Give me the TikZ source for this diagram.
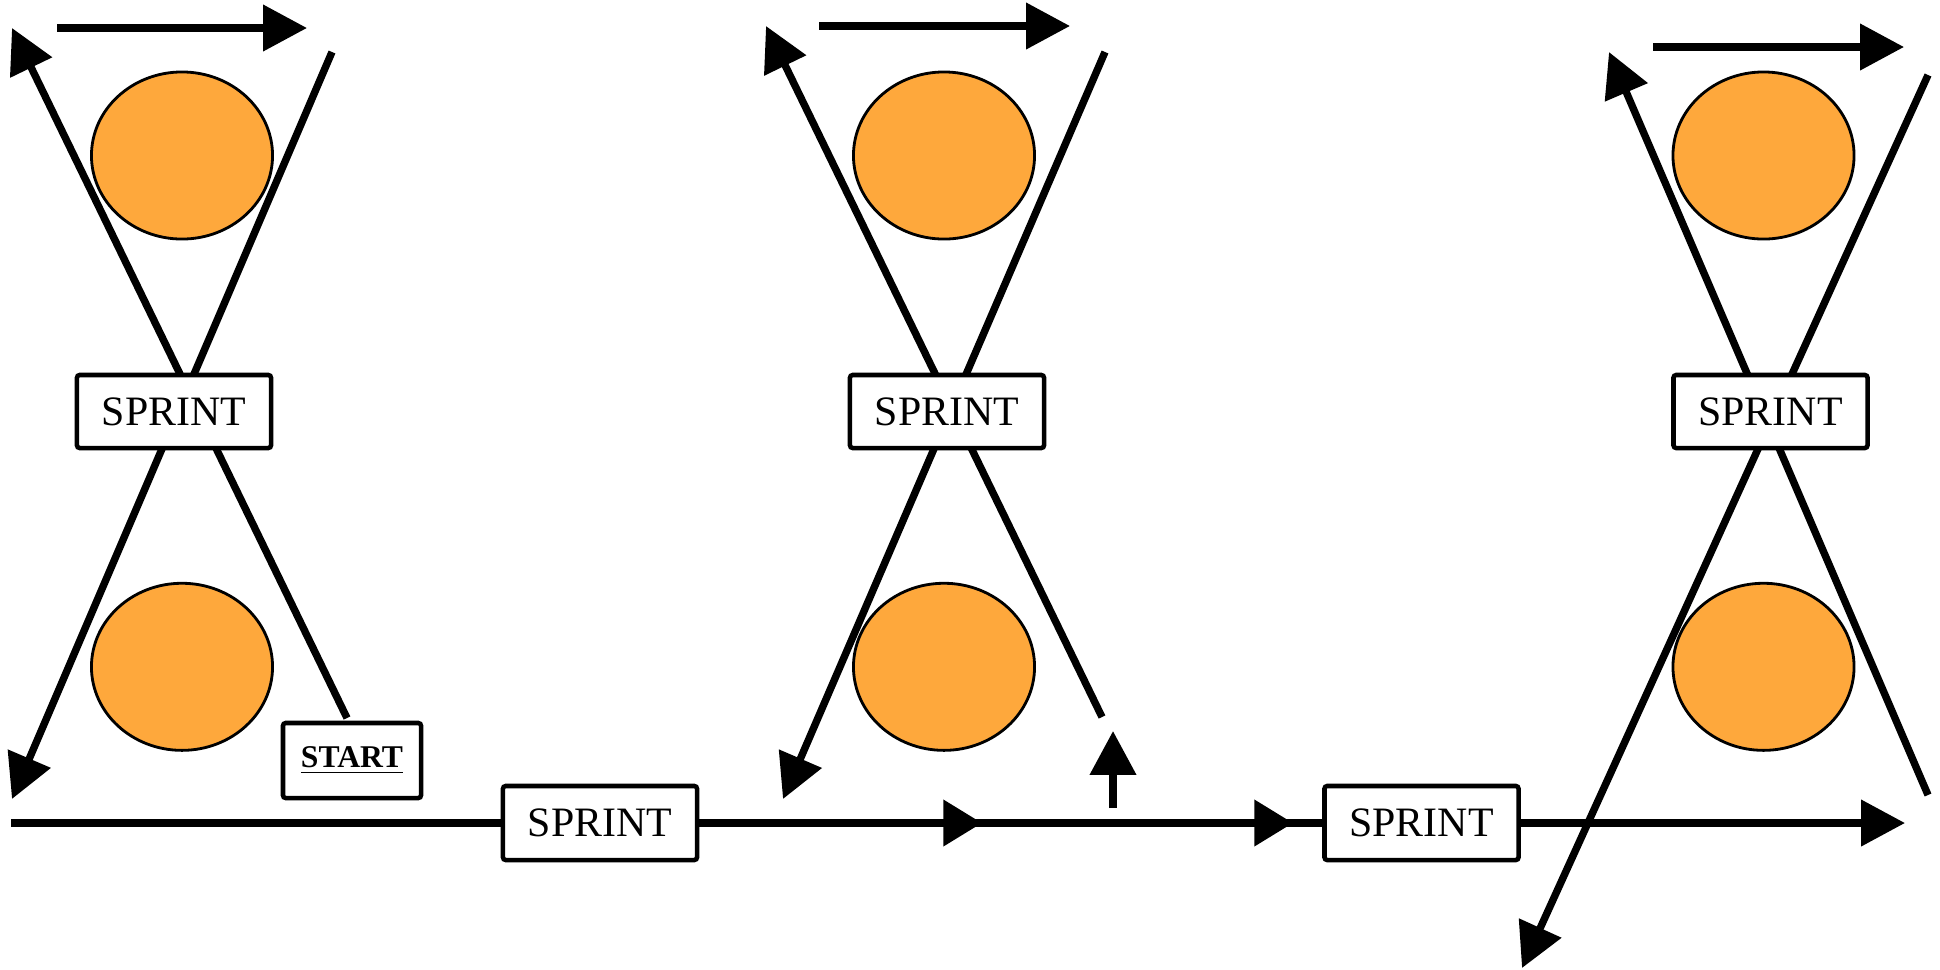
\documentclass[tikz,border=0pt]{standalone}
\usepackage{fontspec}
\setmainfont{Liberation Serif}
\usetikzlibrary{arrows.meta, positioning, shapes.geometric}
\definecolor{ballorange}{HTML}{FEA83C}
\tikzset{
	>={Triangle[length=12.5pt, width=12.8pt]},
	node distance=5.11cm,
	track/.style={line width=2.1pt},
	short/.style={-{Triangle[length=11pt, width=12.8pt]}},
	ball/.style={ellipse, draw, line width=0.8pt, fill=ballorange, minimum width=1.81cm, minimum height=1.67cm},
	sprint/.style={draw, line width=1.3pt, rounded corners=0.8pt, fill=white, minimum width=1.94cm, minimum height=0.73cm, inner sep=0pt, font=\fontsize{11.9}{14}\selectfont},
	startbox/.style={sprint, minimum width=1.38cm, minimum height=0.75cm, font=\bfseries\fontsize{9}{11}\selectfont}
}

\begin{document}
\begin{tikzpicture}[x=0.01cm, y=-0.01cm]
	\useasboundingbox (0,0) rectangle (1940,969);

	% balls
	\node[ball] (b1) at (182,155.5) {};
	\node[ball, below of=b1] (b2) {};
	\node[ball] (b3) at (944,155.5) {};
	\node[ball, below of=b3] (b4) {};
	\node[ball] (b5) at (1763.5,155.5) {};
	\node[ball, below of=b5] (b6) {};

	% line ends
	\coordinate (t1) at (57,28);    \coordinate (t1e) at (307,28);
	\coordinate (u1) at (347,718);  \coordinate (u1e) at (12,28);
	\coordinate (v1) at (332,52);   \coordinate (v1e) at (12,799);
	\coordinate (t2) at (819,26);   \coordinate (t2e) at (1070,26);
	\coordinate (u2) at (1102,717); \coordinate (u2e) at (766,26);
	\coordinate (v2) at (1105,52);  \coordinate (v2e) at (783,799);
	\coordinate (p) at (1113,808);  \coordinate (pe) at (1113,731);
	\coordinate (t3) at (1653,47);  \coordinate (t3e) at (1904,47);
	\coordinate (u3) at (1928,795); \coordinate (u3e) at (1609,52);
	\coordinate (v3) at (1928,75);  \coordinate (v3e) at (1522,968);
	\coordinate (in) at (11,823);   \coordinate (out) at (1905,823);
	\coordinate (m1) at (982,823);  \coordinate (m1b) at (946,823);
	\coordinate (m2) at (1293,823); \coordinate (m2b) at (1257,823);

	\draw[track, ->] (t1) -- (t1e);
	\draw[track, ->] (u1) -- (u1e);
	\draw[track, ->] (v1) -- (v1e);
	\draw[track, ->] (t2) -- (t2e);
	\draw[track, ->] (u2) -- (u2e);
	\draw[track, ->] (v2) -- (v2e);
	\draw[track, ->] (p) -- (pe);
	\draw[track, ->] (t3) -- (t3e);
	\draw[track, ->] (u3) -- (u3e);
	\draw[track, ->] (v3) -- (v3e);

	\node[sprint] (s1) at (174,411.5) {SPRINT};
	\node[sprint] (s2) at (947,411.5) {SPRINT};
	\node[sprint] (s3) at (1770.5,411.5) {SPRINT};
	\node[startbox] (go) at (352,760.5) {\underline{START}};
	\node[sprint, minimum height=0.74cm] (s4) at (600,823) {SPRINT};
	\node[sprint, minimum height=0.74cm] (s5) at (1421.5,823) {SPRINT};

	\draw[track] (in) -- (s4) (m2b) -- (s5);
	\draw[track, short] (s4) -- (m1);
	\draw[track, short] (m1b) -- (m2);
	\draw[track, ->] (s5) -- (out);
\end{tikzpicture}
\end{document}
